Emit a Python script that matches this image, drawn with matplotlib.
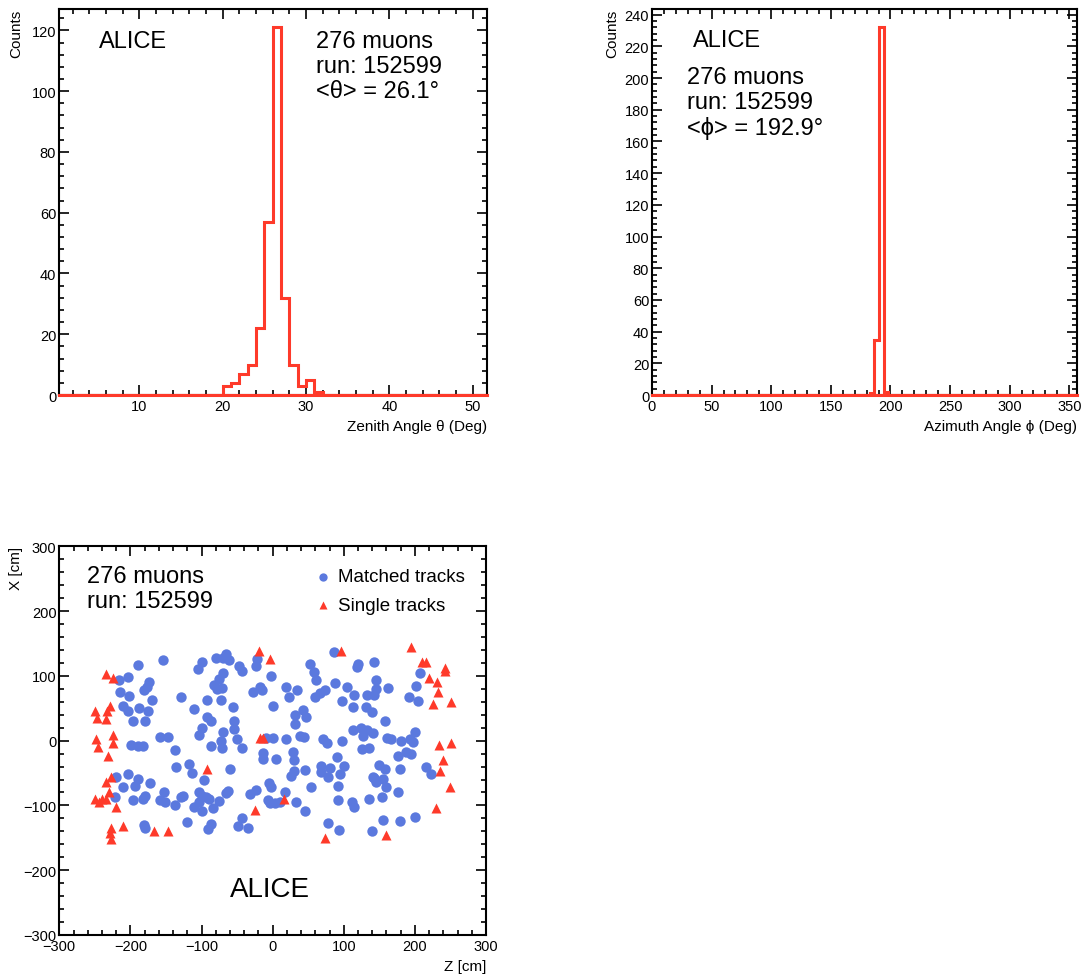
import numpy as np
import matplotlib
matplotlib.use("Agg")
import matplotlib.pyplot as plt
from matplotlib.ticker import MultipleLocator

plt.rcParams["font.family"] = ["Liberation Sans", "DejaVu Sans"]

RED = "#fe3a2a"
BLUE = "#5b79de"

# ── Data ─────────────────────────────────────────────────────────────────────

# zenith angle histogram (1 deg bins)
theta_edges = [20, 21, 22, 23, 24, 25, 26, 27, 28, 29, 30, 31, 32]
theta_counts = [3, 4, 7, 10, 22, 57, 121, 32, 10, 3, 5, 1]
theta_range = (0.37, 51.7)

# azimuth angle histogram
phi_edges = [182.5, 186, 190, 194.5, 198]
phi_counts = [1, 35, 232, 2]
phi_range = (0, 356.5)

# track positions on the detector plane, Z and X in cm
matched_z = [
    -189, -154, -204, -216, -174, -177, -181, -214, -202, -169, -211, -203, -188, -175,
    -196, -179, -129, -110, -99, -105, -79, -65, -70, -62, -47, -43, -70, -76, -83, -78,
    -71, -92, -73, -56, -93, -86, -55, -55, -99, -103, -70, -73, -87, -50, -43, -28, -18,
    -15, -22, -24, -3, 1, -159, -147, -199, -190, -183, -71, -9, 0,
    86, 53, 58, 61, 120, 119, 143, 19, 34, 23, 66, 60, 74, 88, 104, 98, 114, 113, 131,
    140, 133, 145, 146, 142, 162, 192, 204, 201, 207, 31, 43, 47, 31, 158, 19, 39, 44,
    71, 76, 98, 113, 124, 132, 141, 127, 161, 167, 180, 193, 200, 198, 125, 136,
    -138, -136, -118, -113, -96, -60, -13, -13, -220, -203, -189, -211, -194, -172, -180,
    -183, -196, -221, -159, -153, -152, -137, -129, -126, -104, -100, -104, -111, -99,
    -94, -90, -84, -76, -65, -63, -32, -24, -5, -3, -7, -4, -120, -87, -91, -181, -180,
    -49, -43, -35,
    28, 30, 5, 30, 26, 45, 68, 68, 81, 78, 95, 100, 90, 92, 54, 17, 10, 4, 33, 46, 92,
    112, 115, 135, 154, 176, 160, 145, 143, 155, 141, 150, 158, 179, 176, 187, 194, 216,
    223, 78, 93, 140, 155, 179, 200,
]
matched_x = [
    117, 124, 98, 94, 91, 83, 78, 75, 69, 62, 53, 46, 50, 45,
    31, 31, 67, 49, 122, 111, 127, 134, 128, 124, 116, 107, 105, 95, 86, 80,
    82, 63, 63, 52, 37, 31, 31, 18, 20, 9, 14, 0, -8, 2, -11, 75, 83,
    78, 126, 115, 100, 54, 5, 5, -6, -9, -9, -12, 4, 4,
    137, 118, 106, 94, 118, 113, 122, 83, 78, 68, 74, 67, 78, 89, 83, 61, 71, 52, 52,
    44, 71, 93, 80, 71, 82, 68, 61, 84, 105, 40, 47, 37, 26, 30, 2, 7, 6,
    3, -4, -1, 16, 19, 17, 12, 7, 4, 3, 0, 3, 13, -2, -13, -11,
    -15, -40, -36, -50, -60, -43, -19, -28, -56, -52, -59, -72, -70, -66, -85,
    -90, -92, -87, -91, -79, -95, -100, -87, -85, -79, -86, -94, -103, -108,
    -87, -90, -104, -93, -81, -77, -82, -76, -65, -71, -91, -96, -126, -129, -137, -130, -135,
    -131, -120, -135,
    -18, -30, -28, -47, -54, -45, -39, -48, -42, -56, -51, -39, -25, -70, -72, -80, -94, -97, -95, -108, -92,
    -94, -102, -90, -87, -80, -71, -64, -58, -59, -56, -37, -44, -43, -23, -18, -20, -40,
    -51, -127, -138, -139, -123, -124, -118,
]

single_z = [
    -234, -224, -250, -247, -235, -233, -229, -249, -245, -224, -225, -19, -4, -18, -13,
    96, 195, 210, 216, 243, 243, 220, 231, 233, 225, 251, 234, 251,
    -232, -93, -228, -234, -230, -250, -244, -240, -234, -220, -228, -229, -228, -211,
    -167, -147, -25,
    16, 240, 235, 249, 229, 73, 159,
]
single_x = [
    103, 96, 45, 35, 34, 45, 54, 2, -10, 9, -4, 139, 126, 4, 4,
    138, 145, 121, 122, 112, 107, 97, 91, 75, 56, 59, -6, -3,
    -24, -44, -56, -64, -80, -90, -95, -90, -90, -102, -135, -142, -152, -131,
    -139, -139, -107,
    -90, -30, -47, -72, -104, -150, -146,
]

W, H = 1081, 978


def fx(x):
    return x / W


def fy(y):
    return 1 - y / H


def style_axes(ax, xmaj, xmin, ymaj, ymin):
    ax.xaxis.set_major_locator(MultipleLocator(xmaj))
    ax.xaxis.set_minor_locator(MultipleLocator(xmin))
    ax.yaxis.set_major_locator(MultipleLocator(ymaj))
    ax.yaxis.set_minor_locator(MultipleLocator(ymin))
    ax.tick_params(which="both", direction="in", top=True, right=True, width=1.2,
                   labelsize=10.5)
    ax.tick_params(which="major", length=7.5)
    ax.tick_params(which="minor", length=3.8)
    ax.tick_params(axis="x", pad=3)
    ax.tick_params(axis="y", pad=2)
    for sp in ax.spines.values():
        sp.set_linewidth(1.5)


def draw_hist(ax, edges, counts, xr):
    e = [xr[0]] + list(edges) + [xr[1]]
    c = [0] + list(counts) + [0]
    ax.stairs(c, e, color=RED, linewidth=2.2, baseline=None, zorder=5)
    ax.plot(xr, [0, 0], color=RED, linewidth=2.2, clip_on=False, zorder=6)


fig = plt.figure(figsize=(W / 100, H / 100), dpi=100)

# ── zenith angle ──────────────────────────────────────────────────────────────
ax1 = fig.add_axes([fx(59), fy(396), fx(428), 386 / H])
draw_hist(ax1, theta_edges, theta_counts, theta_range)
ax1.set_xlim(*theta_range)
ax1.set_ylim(0, 1.05 * max(theta_counts))
style_axes(ax1, 10, 2, 20, 4)
ax1.set_xlabel("Zenith Angle θ (Deg)", loc="right", fontsize=11, labelpad=4)
ax1.set_ylabel("Counts", loc="top", fontsize=11, labelpad=6)
fig.text(fx(99), fy(42), "ALICE", fontsize=17, va="center")
for i, s in enumerate(["276 muons", "run: 152599", "<θ> = 26.1°"]):
    fig.text(fx(316), fy(42 + 25 * i), s, fontsize=17, va="center")

# ── azimuth angle ─────────────────────────────────────────────────────────────
ax2 = fig.add_axes([fx(652), fy(396), fx(425), 386 / H])
draw_hist(ax2, phi_edges, phi_counts, phi_range)
ax2.set_xlim(*phi_range)
ax2.set_ylim(0, 1.05 * max(phi_counts))
style_axes(ax2, 50, 10, 20, 4)
ax2.set_xlabel("Azimuth Angle ϕ (Deg)", loc="right", fontsize=11, labelpad=4)
ax2.set_ylabel("Counts", loc="top", fontsize=11, labelpad=4)
fig.text(fx(693), fy(41), "ALICE", fontsize=17, va="center")
for i, s in enumerate(["276 muons", "run: 152599", "<ϕ> = 192.9°"]):
    fig.text(fx(687), fy(78 + 25 * i), s, fontsize=17, va="center")

# ── track positions ──────────────────────────────────────────────────────────
ax3 = fig.add_axes([fx(59.3), fy(936), fx(426.7), 388.7 / H])
ax3.scatter(matched_z, matched_x, s=56, color=BLUE, marker="o", linewidths=0,
            label="Matched tracks", zorder=3)
ax3.scatter(single_z, single_x, s=52, color=RED, marker="^", linewidths=0,
            label="Single tracks", zorder=4)
ax3.set_xlim(-300, 300)
ax3.set_ylim(-300, 300)
style_axes(ax3, 100, 20, 100, 20)
ax3.set_xlabel("Z [cm]", loc="right", fontsize=11, labelpad=4)
ax3.set_ylabel("X [cm]", loc="top", fontsize=11, labelpad=0)
ax3.legend(loc="upper left", bbox_to_anchor=(fx(304), fy(560)),
           bbox_transform=fig.transFigure, frameon=False, fontsize=13.5,
           handlelength=1.0, handletextpad=0.3, labelspacing=0.6, borderpad=0,
           markerscale=0.8)
fig.text(fx(87), fy(577), "276 muons", fontsize=17, va="center")
fig.text(fx(87), fy(602), "run: 152599", fontsize=17, va="center")
fig.text(fx(270), fy(890), "ALICE", fontsize=20, va="center", ha="center")

fig.savefig("out.png", dpi=100)
